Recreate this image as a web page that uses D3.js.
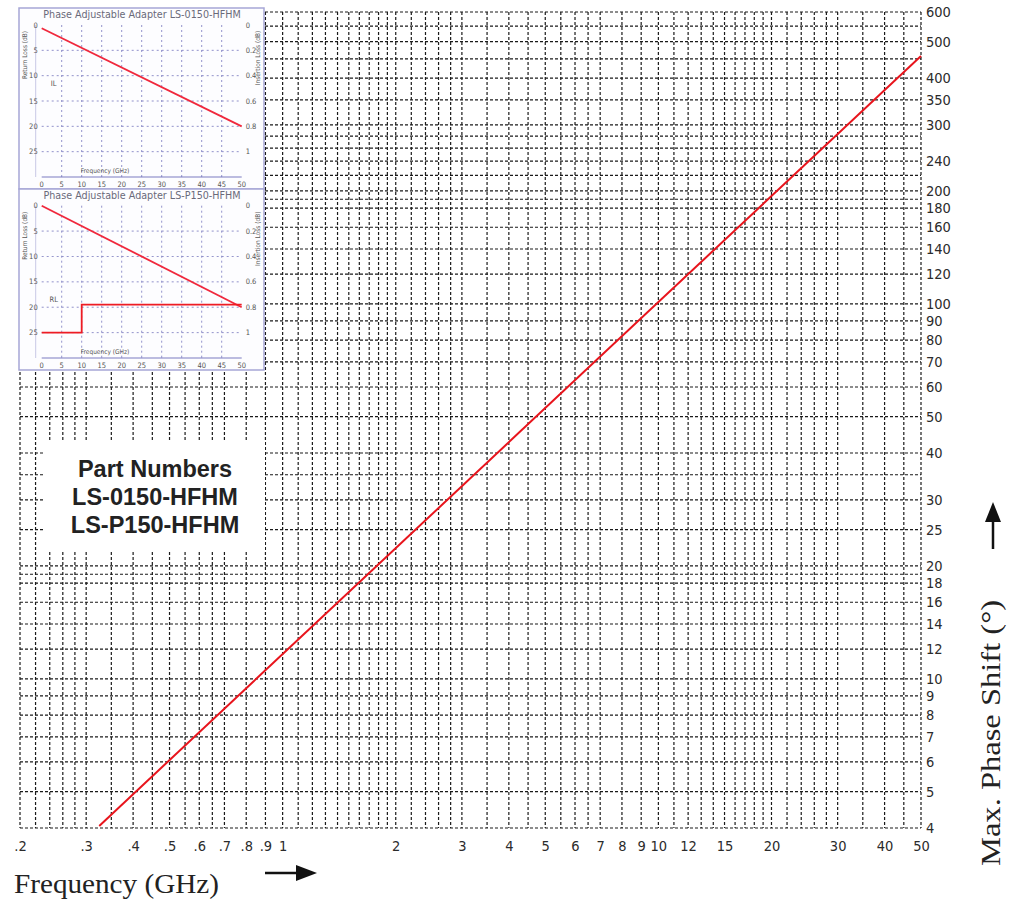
<!DOCTYPE html>
<html><head><meta charset="utf-8">
<script src="https://cdnjs.cloudflare.com/ajax/libs/d3/7.8.5/d3.min.js"></script>
<style>body{margin:0;background:#fff}svg{display:block}</style>
</head><body><svg id="c" width="1020" height="902"></svg>
<script>
// ---------- data ----------
const freqGHz = [0.325, 50];
const phaseShiftDeg = [4.05, 458];
const xGridValues = [0.2,0.22,0.24,0.26,0.28,0.3,0.35,0.4,0.45,0.5,0.55,0.6,0.65,0.7,0.8,0.9,
  1,1.1,1.2,1.3,1.4,1.5,1.6,1.7,1.8,1.9,2,2.2,2.4,2.6,2.8,3,3.5,4,4.5,5,5.5,6,6.5,7,8,9,
  10,11,12,13,14,15,16,17,18,19,20,22,24,26,28,30,35,40,45,50];
const yGridValues = [4,5,6,7,8,9,10,12,14,16,18,19,20,25,30,35,40,50,60,70,80,90,100,120,140,160,180,190,200,220,240,260,280,300,350,400,450,500,550,600];
const xTickValues = [0.2,0.3,0.4,0.5,0.6,0.7,0.8,0.9,1,2,3,4,5,6,7,8,9,10,12,15,20,30,40,50];
const xTickLabels = [".2",".3",".4",".5",".6",".7",".8",".9","1","2","3","4","5","6","7","8","9","10","12","15","20","30","40","50"];
const yTickValues = [4,5,6,7,8,9,10,12,14,16,18,20,25,30,40,50,60,70,80,90,100,120,140,160,180,200,240,300,350,400,500,600];
const partNumbers = ["Part Numbers","LS-0150-HFHM","LS-P150-HFHM"];
// inset charts
const insetFreqTicks = [0,5,10,15,20,25,30,35,40,45,50];
const insetRLTicks = [0,5,10,15,20,25];
const insetILTicks = ["0","0.2","0.4","0.6","0.8","1"];
const inset1Title = "Phase Adjustable Adapter LS-0150-HFHM";
const inset2Title = "Phase Adjustable Adapter LS-P150-HFHM";
const inset1Freq = [0, 50];
const inset1IL = [0.026, 0.8];
const inset2Freq = [0, 50];
const inset2IL = [0, 0.8];
const inset2RLFreq = [0, 10, 10, 50];
const inset2RL = [25, 25, 19.5, 19.5];

// ---------- main chart ----------
const svg = d3.select("#c");
const L = 20, R = 921, T = 12, B = 828;
const x = d3.scaleLog().domain([0.2, 50]).range([L, R]);
const y = d3.scaleLog().domain([4, 600]).range([B, T]);
const gridStyle = s => s.attr("stroke", "#1a1a1a").attr("stroke-width", 1.2).attr("stroke-dasharray", "3,2");

const grid = svg.append("g");
grid.selectAll("line.v").data(xGridValues).join("line").attr("class","v")
  .attr("x1", d => x(d)).attr("x2", d => x(d)).attr("y1", T).attr("y2", B).call(gridStyle);
grid.selectAll("line.h").data(yGridValues).join("line").attr("class","h")
  .attr("x1", L).attr("x2", R).attr("y1", d => y(d)).attr("y2", d => y(d)).call(gridStyle);

// axes (labels only)
const tickFont = s => s.attr("font-family", "DejaVu Sans Condensed, DejaVu Sans").attr("font-stretch","condensed")
  .attr("font-size", 14.5).attr("fill", "#2b2b2b");
const xAxis = d3.axisBottom(x).tickValues(xTickValues).tickSize(0).tickPadding(0)
  .tickFormat((d, i) => xTickLabels[i]);
const gx = svg.append("g").attr("transform", `translate(0,${B + 13})`).call(xAxis);
gx.select(".domain").remove();
gx.selectAll("text").call(tickFont).attr("dy", "0.71em");

const yAxis = d3.axisRight(y).tickValues(yTickValues).tickSize(0).tickPadding(0).tickFormat(d3.format("d"));
const gy = svg.append("g").attr("transform", `translate(${R + 5},0)`).call(yAxis);
gy.select(".domain").remove();
gy.selectAll("text").call(tickFont);

// data line
const line = d3.line().x(d => x(d[0])).y(d => y(d[1]));
svg.append("path").datum(freqGHz.map((f, i) => [f, phaseShiftDeg[i]]))
  .attr("d", line).attr("fill", "none").attr("stroke", "#e8141c").attr("stroke-width", 2);

// part number box
svg.append("rect").attr("x", 43).attr("y", 440).attr("width", 222).attr("height", 112).attr("fill", "#fff");
svg.append("g").selectAll("text").data(partNumbers).join("text")
  .attr("x", 155).attr("y", (d, i) => 477 + i * 28).attr("text-anchor", "middle")
  .attr("font-family", "Liberation Sans, Arial").attr("font-weight", "bold").attr("font-size", 23.5)
  .attr("fill", "#222").text(d => d);

// axis titles
svg.append("text").attr("x", 14).attr("y", 893).attr("font-family", "Liberation Serif, Times New Roman")
  .attr("font-size", 27).attr("fill", "#222").attr("textLength", 205).attr("lengthAdjust","spacingAndGlyphs")
  .text("Frequency (GHz)");
svg.append("line").attr("x1", 265).attr("x2", 298).attr("y1", 873).attr("y2", 873).attr("stroke", "#111").attr("stroke-width", 2.5);
svg.append("path").attr("d", "M296,865 L317,873 L296,881 Z").attr("fill", "#111");

svg.append("text").attr("transform", "translate(1000,866) rotate(-90)")
  .attr("font-family", "Liberation Serif, Times New Roman").attr("font-size", 27).attr("fill", "#222")
  .attr("textLength", 266).attr("lengthAdjust","spacingAndGlyphs").text("Max. Phase Shift (\u00B0)");
svg.append("line").attr("x1", 993).attr("x2", 993).attr("y1", 549).attr("y2", 520).attr("stroke", "#111").attr("stroke-width", 2.5);
svg.append("path").attr("d", "M985,522 L993,502 L1001,522 Z").attr("fill", "#111");

// ---------- inset charts ----------
function inset(top, title, ilF, ilV, rlF, rlV, plotTop, plotBottom) {
  const g = svg.append("g");
  const bx = 19, bw = 245, bh = 181;
  g.append("rect").attr("x", bx).attr("y", top).attr("width", bw).attr("height", bh)
    .attr("fill", "#fdfdff").attr("stroke", "#a6a6d6").attr("stroke-width", 1.5);
  const ix = d3.scaleLinear().domain([0, 50]).range([41.7, 241.7]);
  const iyL = d3.scaleLinear().domain([0, 30]).range([plotTop, plotBottom]);
  const iyR = d3.scaleLinear().domain([0, 1.2]).range([plotTop, plotBottom]);
  g.append("line").attr("x1", ix(0)).attr("x2", ix(50)).attr("y1", plotBottom).attr("y2", plotBottom).attr("stroke", "#a6a6d6").attr("stroke-width", 1.5);
  g.append("line").attr("x1", ix(0) - 6).attr("x2", ix(0) - 6).attr("y1", plotTop).attr("y2", plotBottom).attr("stroke", "#c8c8e6").attr("stroke-width", 1);
  const dash = s => s.attr("stroke", "#6a6ab8").attr("stroke-width", 0.9).attr("stroke-dasharray", "2,3").attr("opacity", 0.8);
  g.selectAll("line.iv").data(insetFreqTicks.slice(1, -1)).join("line").attr("class","iv")
    .attr("x1", d => ix(d)).attr("x2", d => ix(d)).attr("y1", plotTop).attr("y2", plotBottom).call(dash);
  g.selectAll("line.ih").data(insetRLTicks.slice(1)).join("line").attr("class","ih")
    .attr("x1", ix(0)).attr("x2", ix(50)).attr("y1", d => iyL(d)).attr("y2", d => iyL(d)).call(dash);
  const small = s => s.attr("font-family", "DejaVu Sans Condensed, DejaVu Sans").attr("font-size", 7.5).attr("fill", "#555");
  g.selectAll("text.xl").data(insetFreqTicks).join("text").attr("class","xl")
    .attr("x", d => ix(d)).attr("y", plotBottom + 10).attr("text-anchor", "middle").call(small).text(d => d);
  g.selectAll("text.yl").data(insetRLTicks).join("text").attr("class","yl")
    .attr("x", ix(0) - 4).attr("y", d => iyL(d) + 2.5).attr("text-anchor", "end").call(small).text(d => d);
  g.selectAll("text.yr").data(insetILTicks).join("text").attr("class","yr")
    .attr("x", ix(50) + 4).attr("y", (d, i) => iyR(i * 0.2) + 2.5).attr("text-anchor", "start").call(small).text(d => d);
  g.append("text").attr("x", 142).attr("y", top + 10).attr("text-anchor", "middle")
    .attr("font-family", "DejaVu Sans, Liberation Sans").attr("font-size", 9.6).attr("fill", "#6a6a7a").text(title);
  g.append("text").attr("x", 105).attr("y", plotBottom - 4).attr("text-anchor", "middle").call(small).attr("font-size", 6.5).text("Frequency (GHz)");
  g.append("text").attr("transform", `translate(${bx + 8},${plotTop + 30}) rotate(-90)`)
    .attr("text-anchor", "middle").call(small).attr("font-size", 6.5).text("Return Loss (dB)");
  g.append("text").attr("transform", `translate(${bx + bw - 4},${plotTop + 33}) rotate(-90)`)
    .attr("text-anchor", "middle").call(small).attr("font-size", 6.5).text("Insertion Loss (dB)");
  const il = d3.line().x(d => ix(d[0])).y(d => iyR(d[1]));
  g.append("path").datum(ilF.map((f, i) => [f, ilV[i]])).attr("d", il)
    .attr("fill", "none").attr("stroke", "#f0283c").attr("stroke-width", 1.8);
  if (rlF) {
    const rl = d3.line().x(d => ix(d[0])).y(d => iyL(d[1]));
    g.append("path").datum(rlF.map((f, i) => [f, rlV[i]])).attr("d", rl)
      .attr("fill", "none").attr("stroke", "#ee1c24").attr("stroke-width", 1.8);
    g.append("text").attr("x", ix(3)).attr("y", iyL(19)).attr("text-anchor","middle").call(small).text("RL");
  } else {
    g.append("text").attr("x", ix(3)).attr("y", iyL(12)).attr("text-anchor","middle").call(small).text("IL");
  }
}
inset(8, inset1Title, inset1Freq, inset1IL, null, null, 25, 177);
inset(189, inset2Title, inset2Freq, inset2IL, inset2RLFreq, inset2RL, 205.7, 358);
</script></body></html>
